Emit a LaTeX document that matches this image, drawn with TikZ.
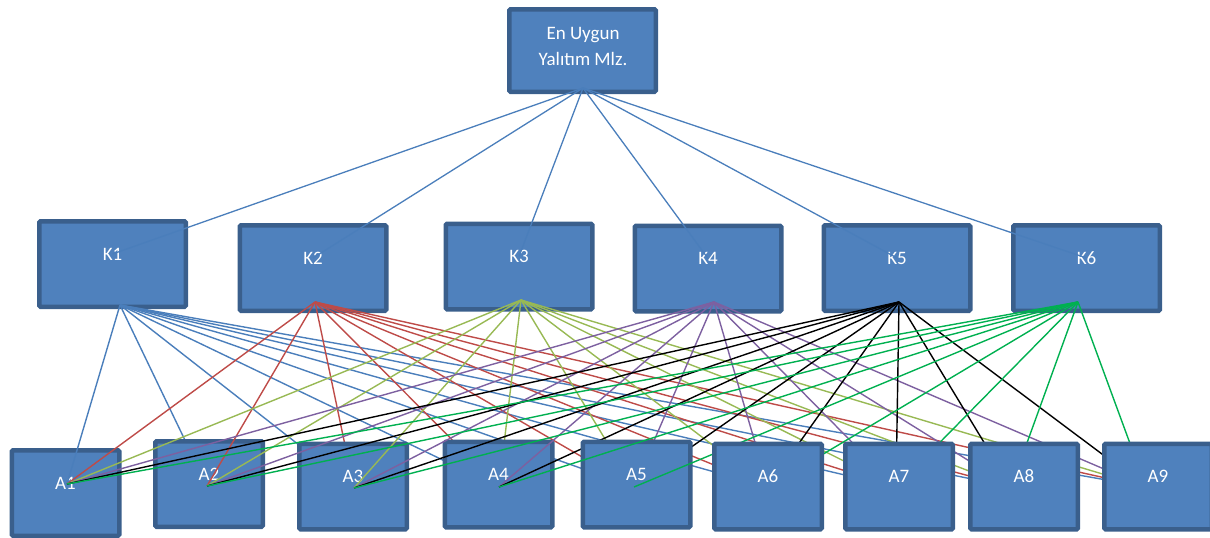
\documentclass[tikz,border=0pt]{standalone}
\usepackage{fontspec}
\setmainfont{Carlito}
\usetikzlibrary{calc}
\definecolor{fil}{HTML}{4F81BD}
\definecolor{bdr}{HTML}{3A5F8C}
\definecolor{cA}{HTML}{4A7EBB}
\definecolor{cB}{HTML}{BE4B48}
\definecolor{cC}{HTML}{98B954}
\definecolor{cD}{HTML}{7D60A0}
\definecolor{cE}{HTML}{000000}
\definecolor{cF}{HTML}{00B050}
\newcommand\boxfont{\fontsize{19}{26}\selectfont}
\tikzset{
  box/.style={draw=bdr, fill=fil, line width=4.5pt, rounded corners=1.2pt, inner sep=0pt, outer sep=0pt, text=white, font=\boxfont},
  kbox/.style={box, minimum width=146.5pt, minimum height=85.5pt, text depth=20pt},
  abox/.style={box, minimum width=107.5pt, minimum height=85.5pt, text depth=20pt},
  conn/.style={line width=1.4pt},
  gtext/.style={text=white, font=\boxfont, align=center, inner sep=0pt},
}
\begin{document}
\begin{tikzpicture}[x=1pt,y=-1pt]
\useasboundingbox (0,0) rectangle (1210,538);
% goal and criteria
\node[box, minimum width=146.5pt, minimum height=82.5pt] (G) at (582.5,50.5) {};
\node[gtext] (Gt) at (583,46) {En Uygun\\Yalıtım Mlz.};
\node[kbox] (K1) at (112.5,264) {K1};
\node[kbox] (K2) at (313,268) {K2};
\node[kbox] (K3) at (519,266.5) {K3};
\node[kbox] (K4) at (708,268.5) {K4};
\node[kbox] (K5) at (897,268) {K5};
\node[kbox] (K6) at (1086.5,268) {K6};
\coordinate (Gb) at (583,88);
\foreach \k in {1,...,6}
  \draw[conn, cA, line width=1.3pt] (Gb) -- ($(K\k.center)+(0,-10)$);
% connector ends
\coordinate (b1) at (120,305);
\coordinate (b2) at (315,302);
\coordinate (b3) at (521,300);
\coordinate (b4) at (714,302);
\coordinate (b5) at (899,302);
\coordinate (b6) at (1078,302);
\coordinate (p1) at (67,484);
\coordinate (p2) at (207,486);
\coordinate (p3) at (354,488);
\coordinate (p4) at (499,487);
\coordinate (p5) at (634,487);
\coordinate (p6) at (768,487);
\coordinate (p7) at (896,487);
\coordinate (p8) at (1011,487);
\coordinate (p9) at (1146,487);
% layered alternatives and connectors
\node[abox] (A1) at (65.5,493) {A1};
\foreach \a in {1,...,9} \draw[conn, cA] (b1) -- (p\a);
\node[abox] (A2) at (209,484) {A2};
\foreach \a in {1,...,9} \draw[conn, cB] (b2) -- (p\a);
\node[abox] (A3) at (353,486.5) {A3};
\foreach \a in {1,...,9} \draw[conn, cC] (b3) -- (p\a);
\node[abox] (A4) at (498.5,484.5) {A4};
\foreach \a in {1,...,9} \draw[conn, cD] (b4) -- (p\a);
\foreach \a in {1,...,9} \draw[conn, cE] (b5) -- (p\a);
\node[abox] (A5) at (636.5,484.5) {A5};
\foreach \a in {1,...,9} \draw[conn, cF] (b6) -- (p\a);
\node[abox] (A6) at (768,486.5) {A6};
\node[abox] (A7) at (899,486.5) {A7};
\node[abox] (A8) at (1024,486.5) {A8};
\node[abox] (A9) at (1158,486.5) {A9};
\end{tikzpicture}
\end{document}
